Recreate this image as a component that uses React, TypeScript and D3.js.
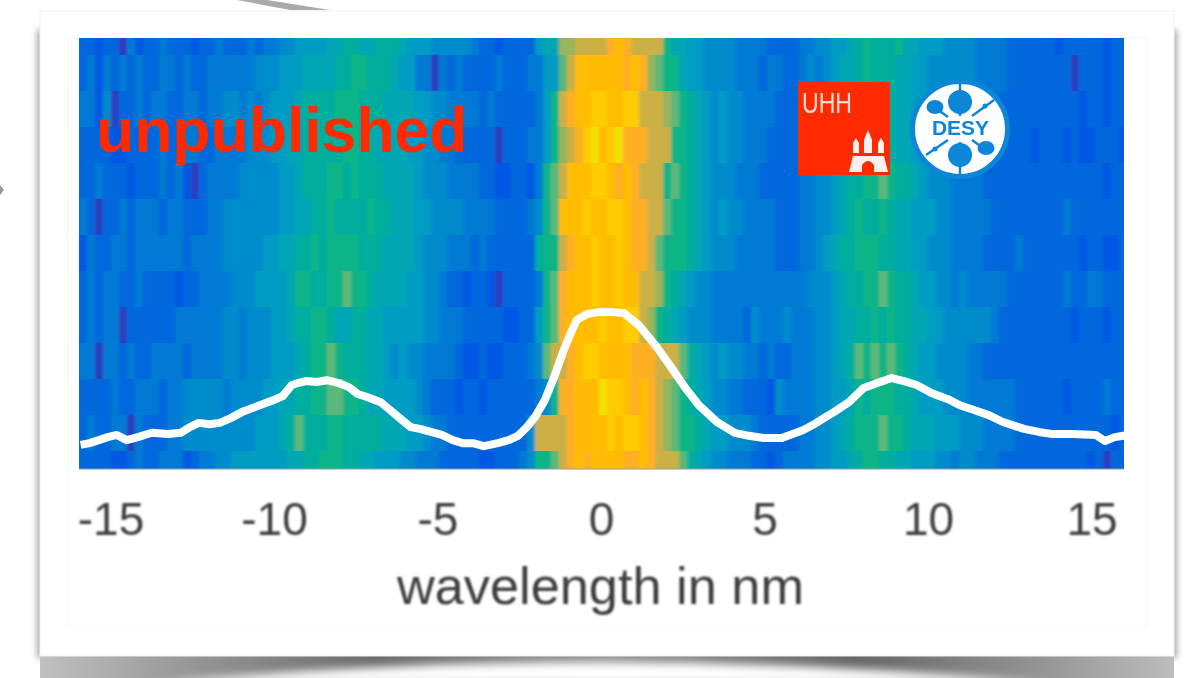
import React from "react";
import * as d3 from "d3";

// Heat-map cells: one string per spectrum row, one hex level per wavelength bin.
const heatRows: string[] = [
  "2212203122"+"3222122322"+"2323344555"+"5667766777"+"6555444443"+"2212222566"+"aabbbbcdcb"+"bbb8665544"+"4433332222"+"3344556787"+"7786655544"+"4433332222"+"22122222122",
  "2313232322"+"3323223333"+"3344455566"+"6677887776"+"5533032322"+"2232223355"+"9bddddddcd"+"ca98865544"+"4433323322"+"3434566787"+"7766554444"+"4433332222"+"22220222122",
  "3314022323"+"3223323344"+"3434555677"+"7788877766"+"6655443333"+"2322222358"+"bcddeeddee"+"bbba987654"+"5443333222"+"3333456778"+"7766555444"+"4333322222"+"22222122122",
  "2222112222"+"3223322333"+"3444556677"+"7778877666"+"6554433222"+"2202223358"+"abcefdefcc"+"cbbb887654"+"5443332222"+"3344567778"+"7766554433"+"3333222221"+"22212112221",
  "2232221222"+"3231023333"+"4444455677"+"7887877766"+"6654443333"+"2211221389"+"bdddeedcdc"+"bbb8987654"+"4433322222"+"3344567788"+"9877654443"+"3332222222"+"22222222122",
  "3202232333"+"2332223344"+"4444455667"+"7877778776"+"6655444433"+"3322223489"+"dddeddeedc"+"cbb9887654"+"5443333222"+"3344567877"+"8766555443"+"3333222222"+"22232222222",
  "1322332333"+"3332333344"+"4445566778"+"7888877766"+"6654443332"+"3222222788"+"bcddeddedc"+"cb98887654"+"4433333222"+"3345677888"+"7766554443"+"3332222322"+"22222122112",
  "2323322322"+"2212233334"+"4455556887"+"7889887666"+"6554432212"+"2102222389"+"cdddeddedd"+"bba8765443"+"3333333333"+"3444567788"+"9877655443"+"4333332222"+"22232233222",
  "2323302222"+"2233333344"+"3444556778"+"8766776655"+"5554433322"+"2221122589"+"cddddeddee"+"ba87654443"+"3332433343"+"3344566778"+"7877665544"+"4444322222"+"22221222122",
  "3303323223"+"3332333344"+"3444555678"+"8987776654"+"5443333211"+"211222349b"+"bcdeeddddc"+"ccbbb97654"+"5443323223"+"3344567989"+"8987655444"+"4332222222"+"22222222222",
  "2222322333"+"2334444434"+"4445566778"+"8998876655"+"5543222122"+"1222222348"+"ccdddfeedc"+"dcba987654"+"4332221433"+"3344556878"+"8877655544"+"4333333222"+"22212222322",
  "2322330322"+"2334444444"+"4455567977"+"7887777766"+"6554332222"+"2222224bbb"+"bcddddedee"+"dcba988765"+"5444322222"+"3344567888"+"9887666555"+"4443333222"+"22222222212",
  "2222112322"+"3331233445"+"5555556677"+"8887766555"+"4433322222"+"1122234889"+"bcdcddddcc"+"dcbbb97654"+"4333221233"+"3344556788"+"7766555443"+"4433322222"+"22222212022",
];
const levelColors = ["#2a3fc0","#0058e4","#0068dc","#007ad4","#008ccc","#009cc4","#00a6b4","#00ae9e","#0cb488","#5cb878","#98b45c","#ccb044","#ffb020","#ffbc00","#ffcc00","#f4e000"];

// White lineout: wavelength in nm and normalised intensity.
const curveNm = [-15.87,-15.6,-15.32,-15.05,-14.77,-14.47,-14.13,-13.71,-13.22,-12.83,-12.55,-12.28,-11.95,-11.64,-11.31,-10.97,-10.49,-10,-9.73,-9.45,-9.24,-9.03,-8.69,-8.39,-8.05,-7.72,-7.45,-7.17,-6.75,-6.44,-6.11,-5.84,-5.56,-5.23,-4.89,-4.56,-4.26,-3.95,-3.62,-3.19,-2.86,-2.58,-2.31,-2.04,-1.76,-1.49,-1.22,-1,-0.79,-0.46,-0.12,0.3,0.64,1.09,1.64,2.07,2.49,2.92,3.47,4.01,4.44,4.89,5.44,6.08,6.38,6.72,7.08,7.48,7.93,8.36,8.78,9.15,9.54,10,10.49,10.85,11.28,11.73,12.16,12.52,12.8,13.25,13.68,14.29,14.98,15.26,15.56,15.96];
const curveI = [0.056,0.06,0.067,0.074,0.079,0.067,0.074,0.084,0.081,0.084,0.097,0.107,0.104,0.107,0.118,0.132,0.146,0.16,0.169,0.195,0.2,0.204,0.202,0.206,0.2,0.19,0.174,0.167,0.155,0.135,0.114,0.097,0.093,0.086,0.079,0.067,0.06,0.06,0.053,0.06,0.067,0.077,0.097,0.123,0.16,0.211,0.269,0.311,0.346,0.36,0.364,0.364,0.362,0.334,0.283,0.237,0.19,0.148,0.109,0.084,0.077,0.072,0.072,0.09,0.102,0.118,0.135,0.155,0.188,0.2,0.211,0.204,0.195,0.176,0.162,0.148,0.137,0.125,0.109,0.1,0.093,0.086,0.081,0.081,0.079,0.065,0.074,0.079];

const tickValues = [-15,-10,-5,0,5,10,15];
const xLabel = "wavelength in nm";

const W = 1194, H = 678;
const P = { l: 79, r: 1124, t: 38, b: 469 };

export default function App() {
  const x = d3.scaleLinear().domain([-15.92, 15.84]).range([P.l, P.r]);
  const yI = d3.scaleLinear().domain([0, 1]).range([P.b, P.t]);
  const nCols = heatRows[0].length;
  const col = d3.scaleLinear().domain([0, nCols]).range([P.l, P.l + nCols * 8]);
  const row = d3.scaleLinear().domain([0, 11]).range([55, 451]);
  const color = d3.scaleOrdinal<number, string>().domain(d3.range(16)).range(levelColors);
  const line = d3.line<number>().x((d) => x(d)).y((_, i) => yI(curveI[i]));
  const tickX = d3.scaleLinear().domain([-15, 15]).range([111, 1092]);

  return (
    <svg width={W} height={H} style={{ position: "absolute", left: 0, top: 0, display: "block", background: "#fff" }}>
      <defs>
        <filter id="cellBlur" x="-2%" y="-2%" width="104%" height="104%"><feGaussianBlur stdDeviation="1.6 0.5" /></filter>
        <filter id="textBlur" x="-5%" y="-20%" width="110%" height="140%"><feGaussianBlur stdDeviation="0.8" /></filter>
        <filter id="softBlur" x="-5%" y="-5%" width="110%" height="110%"><feGaussianBlur stdDeviation="3" /></filter>
        <filter id="lensBlur" x="-5%" y="-60%" width="110%" height="220%"><feGaussianBlur stdDeviation="5" /></filter>
        <filter id="logoBlur"><feGaussianBlur stdDeviation="0.5" /></filter>
        <linearGradient id="floor" x1="0" x2="1" y1="0" y2="0">
          <stop offset="0" stopColor="#c0c0c0" />
          <stop offset="0.12" stopColor="#9a9a9a" />
          <stop offset="0.3" stopColor="#6a6a6a" />
          <stop offset="0.5" stopColor="#8a8a8a" />
          <stop offset="0.72" stopColor="#666" />
          <stop offset="0.9" stopColor="#9a9a9a" />
          <stop offset="1" stopColor="#bdbdbd" />
        </linearGradient>
        <clipPath id="plotClip"><rect x={P.l} y={P.t} width={P.r - P.l} height={P.b - P.t} /></clipPath>
        <clipPath id="pageClip"><rect x={36} y={650} width={1142} height={30} /></clipPath>
      </defs>

      {/* page furniture behind the card */}
      <path d="M237 0 L267 0 L330 10 L290 10 Z" fill="#aaa" />
      <path d="M0 185 L4 190 L0 195 Z" fill="#999" />
      <rect x={37} y={30} width={1140} height={628} fill="#a8a8a8" filter="url(#softBlur)" />
      <g clipPath="url(#pageClip)">
        <rect x={40} y={654} width={1134} height={26} fill="url(#floor)" />
        <path d="M150 684 Q600 640 1050 684 Z" fill="#fff" filter="url(#lensBlur)" />
      </g>

      {/* card */}
      <rect x={40} y={11} width={1134} height={645} fill="#fff" stroke="#f1f1f1" strokeWidth={1} />
      <rect x={68} y={38} width={1079} height={589} fill="none" stroke="#f6f6f6" strokeWidth={1} />

      {/* heat map */}
      <g clipPath="url(#plotClip)">
        <rect x={P.l} y={P.t} width={P.r - P.l} height={P.b - P.t} fill="#0068dc" />
        <g filter="url(#cellBlur)">
          {heatRows.map((r, ri) =>
            r.split("").map((c, ci) => (
              <rect
                key={ri + "-" + ci}
                x={col(ci)}
                y={row(ri - 1)}
                width={col(ci + 1) - col(ci) + 0.5}
                height={row(ri) - row(ri - 1) + 0.5}
                fill={color(parseInt(c, 16))}
              />
            ))
          )}
        </g>
      </g>
      <line x1={P.l} x2={P.r} y1={P.b} y2={P.b} stroke="#9a9a9a" strokeWidth={1.2} />

      {/* lineout */}
      <path d={line(curveNm) ?? ""} fill="none" stroke="#fff" strokeWidth={8} strokeLinejoin="round" clipPath="url(#plotClip)" />

      <text x={96} y={152} fontFamily="Liberation Sans" fontWeight="700" fontSize={62.5} fill="#ff2a00">unpublished</text>

      {/* UHH logo */}
      <g filter="url(#logoBlur)">
        <rect x={798} y={82} width={92} height={93} fill="#ff2a00" />
        <text x={802} y={113} fontFamily="Liberation Sans" fontSize={29} fill="#fbdcd5" textLength={50} lengthAdjust="spacingAndGlyphs">UHH</text>
        <g fill="#fdf0ec">
          <path d="M849 172 L853 156 L884 156 L888 172 L874 172 L874 165 Q868 157 862 165 L862 172 Z" />
          <path d="M853 153 L853 143 L856 138 L859 143 L859 153 Z" />
          <path d="M864 153 L864 140 L868 130 L872 140 L872 153 Z" />
          <path d="M878 153 L878 143 L881 138 L884 143 L884 153 Z" />
        </g>
      </g>

      {/* DESY logo */}
      <g filter="url(#logoBlur)">
        <circle cx={960} cy={129} r={47.5} fill="#fff" stroke="#0a86d8" strokeWidth={5} />
        <g stroke="#0a86d8" strokeWidth={2.5}>
          <line x1={960} y1={84} x2={960} y2={174} strokeDasharray="32 26 32" />
          <line x1={934} y1={107} x2={948} y2={117} />
          <line x1={994} y1={100} x2={972} y2={116} />
          <line x1={926} y1={155} x2={948} y2={140} />
          <line x1={986} y1={150} x2={972} y2={140} />
        </g>
        <g fill="#0a86d8">
          <circle cx={960} cy={102} r={12} />
          <circle cx={960} cy={155} r={12} />
          <ellipse cx={935} cy={107} rx={8.5} ry={7} />
          <ellipse cx={986} cy={148} rx={8.5} ry={7} />
          <circle cx={985} cy={106} r={2.5} />
          <circle cx={935} cy={149} r={2.5} />
        </g>
        <text x={960.5} y={135} textAnchor="middle" fontFamily="Liberation Sans" fontWeight="700" fontSize={21} fill="#0a86d8">DESY</text>
      </g>

      {/* axis */}
      <g filter="url(#textBlur)" fontFamily="Liberation Sans" fill="#3c3c3c">
        {tickValues.map((t) => (
          <text key={t} x={tickX(t)} y={535} textAnchor="middle" fontSize={46}>{t}</text>
        ))}
        <text x={600.5} y={604} textAnchor="middle" fontSize={52.3}>{xLabel}</text>
      </g>
    </svg>
  );
}
